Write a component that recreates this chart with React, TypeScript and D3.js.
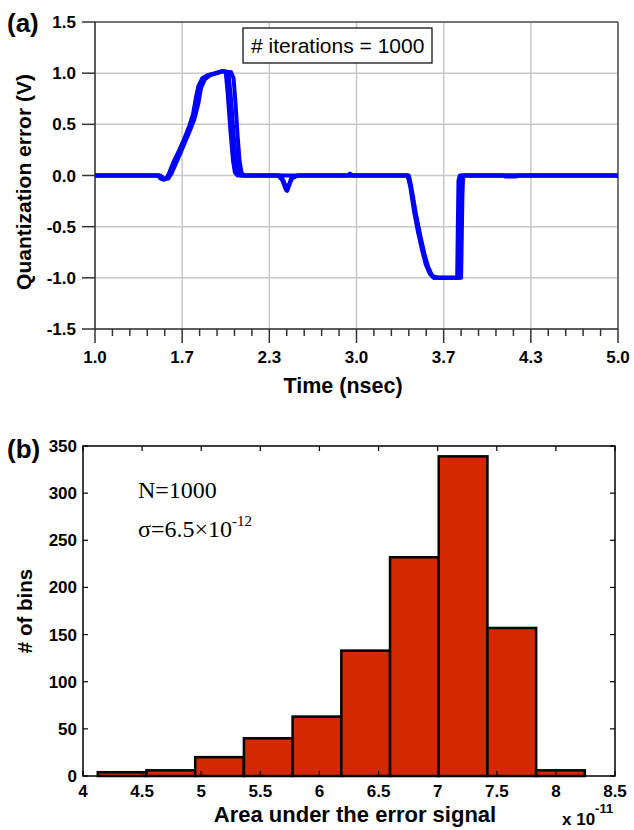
import React from 'react';
import * as d3 from 'd3';

// ---------- Panel (a) data ----------
const TIME_TICKS = [1.0, 1.6667, 2.3333, 3.0, 3.6667, 4.3333, 5.0];
const TIME_TICK_LABELS = ['1.0', '1.7', '2.3', '3.0', '3.7', '4.3', '5.0'];
const ERROR_TICKS = [-1.5, -1.0, -0.5, 0, 0.5, 1.0, 1.5];
const ERROR_TICK_LABELS = ['-1.5', '-1.0', '-0.5', '0.0', '0.5', '1.0', '1.5'];

// a few representative iterations (time in ns, error in V)
const TRACE_A: [number, number][] = [
  [1.0, 0], [1.48, 0], [1.5, -0.03], [1.53, -0.04], [1.555, -0.02], [1.58, 0.06], [1.63, 0.2],
  [1.68, 0.35], [1.72, 0.48], [1.75, 0.6], [1.77, 0.75], [1.79, 0.87], [1.82, 0.95], [1.86, 0.98],
  [1.92, 1.0], [1.97, 1.02], [2.0, 1.01], [2.015, 0.8], [2.035, 0.45], [2.055, 0.15], [2.07, 0.03],
  [2.09, 0], [2.42, 0], [2.445, -0.06], [2.47, -0.15], [2.49, -0.08], [2.51, -0.02], [2.53, -0.01],
  [2.56, 0], [2.93, 0], [2.95, 0.02], [2.97, 0], [3.39, 0], [3.41, -0.1], [3.44, -0.35], [3.47, -0.55],
  [3.5, -0.72], [3.53, -0.87], [3.56, -0.96], [3.59, -1.0], [3.77, -1.0], [3.775, -0.5], [3.78, -0.05],
  [3.79, 0], [4.12, 0], [4.14, -0.01], [4.22, -0.01], [4.24, 0], [5.0, 0],
];
const TRACE_B: [number, number][] = [
  [1.0, 0], [1.5, 0], [1.53, -0.03], [1.56, -0.03], [1.585, 0.02], [1.62, 0.12], [1.67, 0.27],
  [1.72, 0.42], [1.76, 0.55], [1.79, 0.7], [1.81, 0.85], [1.84, 0.94], [1.88, 0.98], [1.93, 1.0],
  [1.98, 1.02], [2.04, 1.01], [2.06, 0.95], [2.075, 0.7], [2.09, 0.4], [2.105, 0.15], [2.12, 0.03],
  [2.14, 0], [2.4, 0], [2.43, -0.04], [2.46, -0.14], [2.48, -0.1], [2.5, -0.03], [2.55, 0], [3.4, 0],
  [3.42, -0.12], [3.455, -0.38], [3.49, -0.6], [3.52, -0.77], [3.55, -0.9], [3.58, -0.98], [3.62, -1.0],
  [3.8, -1.0], [3.805, -0.6], [3.81, -0.2], [3.815, -0.02], [3.83, 0], [5.0, 0],
];
const TRACE_C: [number, number][] = [
  [1.0, 0], [1.49, 0], [1.52, -0.04], [1.545, -0.03], [1.57, 0.03], [1.6, 0.13], [1.65, 0.26],
  [1.7, 0.4], [1.74, 0.53], [1.77, 0.66], [1.8, 0.84], [1.83, 0.94], [1.87, 0.98], [1.93, 1.0],
  [1.98, 1.02], [2.02, 1.01], [2.04, 0.75], [2.06, 0.4], [2.08, 0.12], [2.1, 0.02], [2.12, 0],
  [3.395, 0], [3.415, -0.11], [3.45, -0.37], [3.48, -0.57], [3.51, -0.74], [3.54, -0.88],
  [3.57, -0.97], [3.6, -1.0], [3.785, -1.0], [3.79, -0.55], [3.795, -0.1], [3.805, 0], [5.0, 0],
];
const TRACES = [TRACE_A, TRACE_B, TRACE_C];

// ---------- Panel (b) data ----------
const BIN_EDGES = [4.125, 4.537, 4.949, 5.361, 5.773, 6.185, 6.597, 7.009, 7.421, 7.833, 8.245];
const BIN_COUNTS = [4, 6, 20, 40, 63, 133, 232, 339, 157, 6];
const AREA_TICKS = [4, 4.5, 5, 5.5, 6, 6.5, 7, 7.5, 8, 8.5];
const AREA_TICK_LABELS = ['4', '4.5', '5', '5.5', '6', '6.5', '7', '7.5', '8', '8.5'];
const COUNT_TICKS = [0, 50, 100, 150, 200, 250, 300, 350];

const SANS = "'Liberation Sans', Arial, Helvetica, sans-serif";
const SERIF = "'Liberation Serif', 'Times New Roman', serif";

export default function App() {
  // ---- panel (a) geometry
  const a = { left: 95, right: 618, top: 22, bottom: 329 };
  const xA = d3.scaleLinear().domain([1, 5]).range([a.left, a.right]);
  const yA = d3.scaleLinear().domain([-1.5, 1.5]).range([a.bottom, a.top]);
  const line = d3.line<[number, number]>().x(d => xA(d[0])).y(d => yA(d[1]));
  const minorTicks: number[] = [];
  for (let i = 0; i < TIME_TICKS.length - 1; i++) {
    const t0 = TIME_TICKS[i], t1 = TIME_TICKS[i + 1];
    for (let k = 1; k < 5; k++) minorTicks.push(t0 + ((t1 - t0) * k) / 5);
  }

  // ---- panel (b) geometry
  const b = { left: 83, right: 615, top: 446, bottom: 776 };
  const xB = d3.scaleLinear().domain([4, 8.5]).range([b.left, b.right]);
  const yB = d3.scaleLinear().domain([0, 350]).range([b.bottom, b.top]);

  return (
    <svg width={634} height={830} style={{ position: 'absolute', left: 0, top: 0, background: '#fff' }}>
      <rect x={0} y={0} width={634} height={830} fill="#fff" />
      {/* ================= Panel (a) ================= */}
      <text x={7} y={31.5} fontFamily={SANS} fontWeight="bold" fontSize={26}>(a)</text>
      {/* grid */}
      {TIME_TICKS.map((t, i) => (
        <line key={'gx' + i} x1={xA(t)} x2={xA(t)} y1={a.top} y2={a.bottom} stroke="#c8c8c8" strokeWidth={1.5} />
      ))}
      {ERROR_TICKS.map((v, i) => (
        <line key={'gy' + i} x1={a.left} x2={a.right} y1={yA(v)} y2={yA(v)} stroke="#c8c8c8" strokeWidth={1.5} />
      ))}
      {/* frame */}
      <line x1={a.left} x2={a.right} y1={a.top} y2={a.top} stroke="#555" strokeWidth={1.5} />
      <line x1={a.right} x2={a.right} y1={a.top} y2={a.bottom} stroke="#555" strokeWidth={1.5} />
      <line x1={a.left} x2={a.left} y1={a.top} y2={a.bottom + 1} stroke="#333" strokeWidth={1.5} />
      <line x1={a.left} x2={a.right} y1={a.bottom} y2={a.bottom} stroke="#333" strokeWidth={1.5} />
      {/* traces */}
      {TRACES.map((tr, i) => (
        <path key={'tr' + i} d={line(tr) || ''} fill="none" stroke="#0000ff" strokeWidth={4} strokeLinejoin="round" />
      ))}
      {/* y ticks */}
      {ERROR_TICKS.map((v, i) => (
        <g key={'ya' + i}>
          <line x1={a.left - 13} x2={a.left} y1={yA(v)} y2={yA(v)} stroke="#333" strokeWidth={1.5} />
          <text x={76} y={yA(v) + 6} textAnchor="end" fontFamily={SANS} fontWeight="bold" fontSize={17}>
            {ERROR_TICK_LABELS[i]}
          </text>
        </g>
      ))}
      {/* x ticks */}
      {TIME_TICKS.map((t, i) => (
        <g key={'xa' + i}>
          <line x1={xA(t)} x2={xA(t)} y1={a.bottom} y2={a.bottom + 14} stroke="#333" strokeWidth={1.5} />
          <text x={xA(t)} y={363} textAnchor="middle" fontFamily={SANS} fontWeight="bold" fontSize={17}>
            {TIME_TICK_LABELS[i]}
          </text>
        </g>
      ))}
      {minorTicks.map((t, i) => (
        <line key={'mx' + i} x1={xA(t)} x2={xA(t)} y1={a.bottom} y2={a.bottom + 7} stroke="#333" strokeWidth={1.5} />
      ))}
      {/* legend box */}
      <rect x={243} y={28} width={189} height={35} fill="#fff" stroke="#000" strokeWidth={1.2} />
      <text x={251} y={53} fontFamily={SANS} fontSize={21}># iterations = 1000</text>
      {/* axis titles */}
      <text x={343} y={393} textAnchor="middle" fontFamily={SANS} fontWeight="bold" fontSize={21.5}>Time (nsec)</text>
      <text
        transform={`translate(31,182) rotate(-90)`}
        textAnchor="middle"
        fontFamily={SANS}
        fontWeight="bold"
        fontSize={21}
      >
        Quantization error (V)
      </text>

      {/* ================= Panel (b) ================= */}
      <text x={7} y={457.5} fontFamily={SANS} fontWeight="bold" fontSize={26}>(b)</text>
      {/* bars */}
      {BIN_COUNTS.map((c, i) => (
        <rect
          key={'bar' + i}
          x={xB(BIN_EDGES[i])}
          y={yB(c)}
          width={xB(BIN_EDGES[i + 1]) - xB(BIN_EDGES[i])}
          height={yB(0) - yB(c)}
          fill="#d62800"
          stroke="#000"
          strokeWidth={2.5}
        />
      ))}
      {/* frame */}
      <rect x={b.left} y={b.top} width={b.right - b.left} height={b.bottom - b.top} fill="none" stroke="#000" strokeWidth={1.5} />
      {/* ticks */}
      {AREA_TICKS.map((t, i) => (
        <g key={'xb' + i}>
          <line x1={xB(t)} x2={xB(t)} y1={b.top} y2={b.top + 5} stroke="#000" strokeWidth={1.2} />
          <line x1={xB(t)} x2={xB(t)} y1={b.bottom} y2={b.bottom - 5} stroke="#000" strokeWidth={1.2} />
          <text x={xB(t)} y={797} textAnchor="middle" fontFamily={SANS} fontWeight="bold" fontSize={17}>
            {AREA_TICK_LABELS[i]}
          </text>
        </g>
      ))}
      {COUNT_TICKS.map((v, i) => (
        <g key={'yb' + i}>
          <line x1={b.left} x2={b.left + 5} y1={yB(v)} y2={yB(v)} stroke="#000" strokeWidth={1.2} />
          <line x1={b.right} x2={b.right - 5} y1={yB(v)} y2={yB(v)} stroke="#000" strokeWidth={1.2} />
          <text x={77} y={yB(v) + 6} textAnchor="end" fontFamily={SANS} fontWeight="bold" fontSize={17}>
            {v}
          </text>
        </g>
      ))}
      {/* annotations */}
      <text x={138} y={498} fontFamily={SERIF} fontSize={24}>N=1000</text>
      <text x={138} y={537} fontFamily={SERIF} fontSize={24}>
        σ=6.5×10<tspan dy={-11} fontSize={15}>-12</tspan>
      </text>
      {/* axis titles */}
      <text x={355} y={822} textAnchor="middle" fontFamily={SANS} fontWeight="bold" fontSize={22}>
        Area under the error signal
      </text>
      <text x={562} y={825} fontFamily={SANS} fontWeight="bold" fontSize={17}>
        x 10<tspan dy={-12} fontSize={13}>-11</tspan>
      </text>
      <text
        transform={`translate(32,${(b.top + b.bottom) / 2}) rotate(-90)`}
        textAnchor="middle"
        fontFamily={SANS}
        fontWeight="bold"
        fontSize={20.5}
      >
        # of bins
      </text>
    </svg>
  );
}
